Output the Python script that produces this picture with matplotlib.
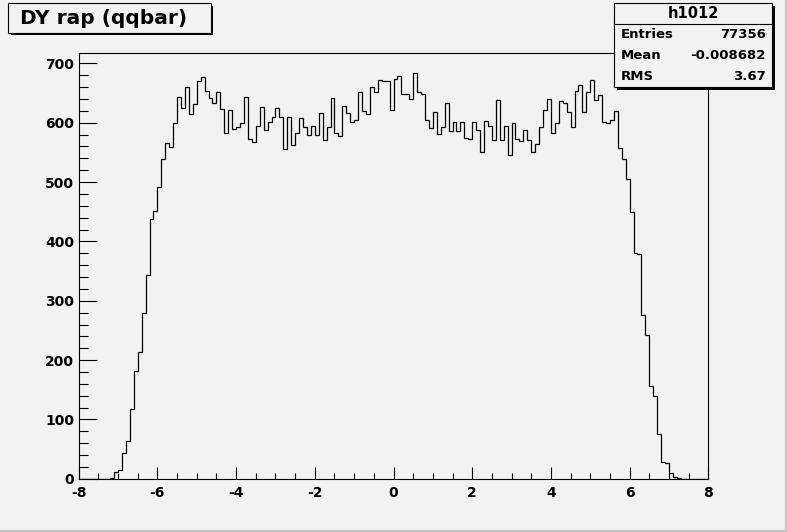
"""
Redraw the ROOT canvas for h1012 (DY rapidity, qqbar) as out.png.
"""

import numpy as np
import matplotlib
matplotlib.use("Agg")
import matplotlib.pyplot as plt
from matplotlib.patches import Rectangle
from matplotlib.lines import Line2D
from matplotlib.ticker import MultipleLocator

# ---------------------------------------------------------------------------
# Histogram contents (160 bins of 0.1 from -8 to 8)
# ---------------------------------------------------------------------------
XMIN, XMAX, NBINS = -8.0, 8.0, 160

COUNTS = [
    0, 0, 0, 0, 0, 0, 0, 0, 2, 12,                         # -8.0 .. -7.1
    15, 43, 63, 118, 182, 214, 280, 344, 437, 452,         # -7.0 .. -6.1
    492, 539, 566, 559, 599, 643, 625, 660, 615, 632,      # -6.0 .. -5.1
    670, 677, 654, 641, 634, 652, 623, 582, 621, 590,      # -5.0 .. -4.1
    592, 599, 643, 573, 568, 594, 627, 587, 601, 610,      # -4.0 .. -3.1
    625, 609, 556, 610, 562, 582, 608, 592, 580, 595,      # -3.0 .. -2.1
    580, 617, 571, 592, 642, 582, 577, 628, 616, 602,      # -2.0 .. -1.1
    604, 651, 620, 615, 661, 651, 672, 671, 671, 621,      # -1.0 .. -0.1
    673, 679, 649, 648, 640, 683, 651, 649, 604, 591,      #  0.0 ..  0.9
    618, 581, 592, 633, 586, 601, 586, 601, 575, 572,      #  1.0 ..  1.9
    601, 587, 550, 603, 594, 571, 638, 571, 595, 545,      #  2.0 ..  2.9
    599, 572, 569, 587, 571, 550, 564, 593, 622, 640,      #  3.0 ..  3.9
    583, 599, 637, 634, 618, 592, 653, 664, 618, 651,      #  4.0 ..  4.9
    672, 639, 647, 601, 599, 604, 620, 558, 539, 505,      #  5.0 ..  5.9
    450, 381, 378, 276, 243, 156, 140, 75, 29, 27,         #  6.0 ..  6.9
    10, 3, 1, 0, 0, 0, 0, 0, 0, 0,                         #  7.0 ..  7.9
]

TITLE = "DY rap (qqbar)"
HIST_NAME = "h1012"
STATS = [("Entries", "77356"), ("Mean", "-0.008682"), ("RMS", "3.67")]

X_TICKS = [-8, -6, -4, -2, 0, 2, 4, 6, 8]
Y_TICKS = [0, 100, 200, 300, 400, 500, 600, 700]

# ---------------------------------------------------------------------------
# Style
# ---------------------------------------------------------------------------
BG = "#f2f2f2"
W, H = 787, 532

plt.rcParams.update({
    "font.family": ["DejaVu Sans"],
    "font.weight": "bold",
    "axes.unicode_minus": False,
    "figure.dpi": 100,
})

fig = plt.figure(figsize=(W / 100, H / 100), dpi=100, facecolor=BG)
ax = fig.add_axes([0.1, 0.1, 0.8, 0.8], facecolor=BG)

counts = np.array(COUNTS, dtype=float)
edges = np.linspace(XMIN, XMAX, NBINS + 1)
ax.stairs(counts, edges, color="black", lw=0.9)

ax.set_xlim(XMIN, XMAX)
ax.set_ylim(0, counts.max() * 1.05)

ax.set_xticks(X_TICKS)
ax.set_yticks(Y_TICKS)
ax.xaxis.set_minor_locator(MultipleLocator(0.5))
ax.yaxis.set_minor_locator(MultipleLocator(20))
ax.tick_params(axis="x", which="major", direction="in", length=8.6, width=0.8,
               labelsize=10, pad=5.2, top=False)
ax.tick_params(axis="x", which="minor", direction="in", length=4.3, width=0.8, top=False)
ax.tick_params(axis="y", which="major", direction="in", length=13, width=0.8,
               labelsize=10, pad=3.4, right=False)
ax.tick_params(axis="y", which="minor", direction="in", length=6.5, width=0.8, right=False)
for lab in ax.get_xticklabels() + ax.get_yticklabels():
    lab.set_fontweight("bold")
for sp in ax.spines.values():
    sp.set_linewidth(0.8)
    sp.set_color("black")


# ---------------------------------------------------------------------------
# Title box and stats box (pixel positions on the canvas)
# ---------------------------------------------------------------------------
def fx(x):
    return x / W


def fy(y):
    return 1 - y / H


def box(x0, y0, x1, y1, shadow=3):
    fig.patches.append(Rectangle((fx(x0 + shadow), fy(y1 + shadow)),
                                 fx(x1 - x0), (y1 - y0) / H,
                                 transform=fig.transFigure, facecolor="black",
                                 edgecolor="none", zorder=5))
    fig.patches.append(Rectangle((fx(x0), fy(y1)), fx(x1 - x0), (y1 - y0) / H,
                                 transform=fig.transFigure, facecolor=BG,
                                 edgecolor="black", lw=0.8, zorder=6))


box(8, 3.3, 210.5, 32.7, shadow=2.5)
fig.text(fx(20.5), fy(19), TITLE, fontsize=14.5, fontweight="bold",
         ha="left", va="center", zorder=7)

box(614, 2.7, 772, 87.3, shadow=3)
fig.lines.append(Line2D([fx(614), fx(772)], [fy(24), fy(24)],
                        transform=fig.transFigure, color="black", lw=0.8, zorder=7))
fig.text(fx(693), fy(13.5), HIST_NAME, fontsize=10.5, fontweight="bold",
         ha="center", va="center", zorder=7)
for i, (name, val) in enumerate(STATS):
    yy = 34.8 + i * 21
    fig.text(fx(620.5), fy(yy), name, fontsize=9.5, fontweight="bold",
             ha="left", va="center", zorder=7)
    fig.text(fx(766), fy(yy), val, fontsize=9.5, fontweight="bold",
             ha="right", va="center", zorder=7)

# canvas border (darker bottom / right edge)
fig.lines.append(Line2D([0, 1], [fy(531), fy(531)], transform=fig.transFigure,
                        color="#c4c4c4", lw=1.5, zorder=8))
fig.lines.append(Line2D([fx(786), fx(786)], [0, 1], transform=fig.transFigure,
                        color="#c4c4c4", lw=1.5, zorder=8))

fig.savefig("out.png", dpi=100, facecolor=BG)
